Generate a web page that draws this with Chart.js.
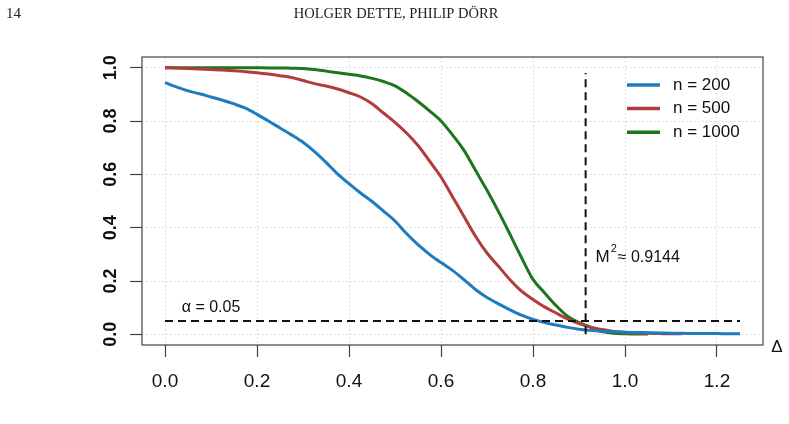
<!DOCTYPE html>
<html>
<head>
<meta charset="utf-8">
<script src="https://cdn.jsdelivr.net/npm/chart.js@4.4.0/dist/chart.umd.min.js"></script>
<style>
  html, body { margin: 0; padding: 0; background: #fff; }
  canvas { display: block; }
</style>
</head>
<body>
<canvas id="power-curves" width="789" height="424"></canvas>
<script>
const deltaGrid = [
  0, 0.025, 0.05, 0.075, 0.1, 0.125, 0.15, 0.175, 0.2, 0.225,
  0.25, 0.275, 0.3, 0.325, 0.35, 0.375, 0.4, 0.425, 0.45, 0.475,
  0.5, 0.525, 0.55, 0.575, 0.6, 0.625, 0.65, 0.675, 0.7, 0.725,
  0.75, 0.775, 0.8, 0.825, 0.85, 0.875, 0.9, 0.925, 0.95, 0.975,
  1.0, 1.025, 1.05, 1.075, 1.1, 1.125, 1.15, 1.175, 1.2, 1.225, 1.25
];
const power200 = [
  0.944, 0.928, 0.913, 0.902, 0.890, 0.878, 0.864, 0.848, 0.825, 0.800,
  0.774, 0.748, 0.720, 0.685, 0.645, 0.602, 0.565, 0.530, 0.498, 0.462,
  0.425, 0.378, 0.336, 0.300, 0.269, 0.240, 0.205, 0.168, 0.138, 0.114,
  0.092, 0.072, 0.056, 0.044, 0.035, 0.026, 0.019, 0.015, 0.012, 0.010,
  0.008, 0.007, 0.006, 0.005, 0.004, 0.004, 0.003, 0.003, 0.003, 0.002, 0.002
];
const power500 = [
  1.000, 0.999, 0.997, 0.995, 0.993, 0.991, 0.988, 0.985, 0.981, 0.976,
  0.970, 0.963, 0.952, 0.940, 0.931, 0.920, 0.906, 0.890, 0.865, 0.830,
  0.795, 0.755, 0.708, 0.650, 0.590, 0.516, 0.442, 0.368, 0.305, 0.255,
  0.205, 0.162, 0.131, 0.103, 0.080, 0.058, 0.040, 0.027, 0.018, 0.011,
  0.007, 0.005, 0.004, 0.003, 0.002, 0.002, null, null, null, null, null
];
const power1000 = [
  1.000, 1.000, 1.000, 1.000, 1.000, 1.000, 1.000, 1.000, 1.000, 0.999,
  0.999, 0.998, 0.997, 0.993, 0.987, 0.981, 0.975, 0.969, 0.960, 0.948,
  0.932, 0.905, 0.873, 0.838, 0.800, 0.748, 0.690, 0.615, 0.540, 0.460,
  0.375, 0.288, 0.206, 0.156, 0.108, 0.068, 0.044, 0.027, 0.010, 0.004,
  0.002, 0.001, 0.001, null, null, null, null, null, null, null, null
];
const seriesLabels = ['n = 200', 'n = 500', 'n = 1000'];
const seriesColors = ['#1f7bbf', '#b23b3b', '#1c761c'];
const xTicks = [0, 0.2, 0.4, 0.6, 0.8, 1.0, 1.2];
const yTicks = [0, 0.2, 0.4, 0.6, 0.8, 1.0];
const alphaLevel = 0.05;
const alphaSpan = [0, 1.25];
const m2Value = 0.9144;
const m2Span = [0, 0.98];

function toPoints(values) {
  const pts = [];
  values.forEach((v, i) => {
    if (v !== null) pts.push({ x: deltaGrid[i], y: v });
  });
  return pts;
}

const curveSets = [power200, power500, power1000].map((values, i) => ({
  label: seriesLabels[i],
  data: toPoints(values),
  borderColor: seriesColors[i],
  borderWidth: 3,
  pointRadius: 0,
  cubicInterpolationMode: 'monotone',
  order: i + 1,
}));

const dashedSets = [
  {
    label: 'alpha',
    data: [{ x: alphaSpan[0], y: alphaLevel }, { x: alphaSpan[1], y: alphaLevel }],
  },
  {
    label: 'M2',
    data: [{ x: m2Value, y: m2Span[0] }, { x: m2Value, y: m2Span[1] }],
  },
].map(ds => Object.assign(ds, {
  borderColor: '#111',
  borderWidth: 2,
  borderDash: [8, 5],
  pointRadius: 0,
  order: 0,
}));

const sansFont = '"Liberation Sans", Arial, sans-serif';
const serifFont = '"Liberation Serif", "Times New Roman", serif';

// box, legend, annotations and page header
const decorations = {
  id: 'decorations',
  afterDraw(chart) {
    const { ctx, chartArea: a, scales } = chart;
    ctx.save();
    ctx.strokeStyle = '#444';
    ctx.lineWidth = 1.2;
    ctx.strokeRect(a.left, a.top, a.right - a.left, a.bottom - a.top);

    // legend
    ctx.textBaseline = 'middle';
    ctx.textAlign = 'left';
    ctx.font = '17px ' + sansFont;
    curveSets.forEach((ds, i) => {
      const y = 85 + i * 23.6;
      ctx.strokeStyle = ds.borderColor;
      ctx.lineWidth = 3.5;
      ctx.beginPath();
      ctx.moveTo(627, y);
      ctx.lineTo(660, y);
      ctx.stroke();
      ctx.fillStyle = '#111';
      ctx.fillText(ds.label, 673, y);
    });

    // alpha label
    ctx.font = '16px ' + sansFont;
    ctx.textAlign = 'center';
    ctx.fillText('\u03b1 = 0.05', scales.x.getPixelForValue(0.1), scales.y.getPixelForValue(0.1));

    // M^2 label
    const mx = scales.x.getPixelForValue(0.936);
    const my = scales.y.getPixelForValue(0.289);
    ctx.textAlign = 'left';
    ctx.font = '17px ' + sansFont;
    ctx.fillText('M', mx, my);
    const mw = ctx.measureText('M').width;
    ctx.font = '11px ' + sansFont;
    ctx.fillText('2', mx + mw + 1, my - 8);
    ctx.font = '16px ' + sansFont;
    ctx.fillText('\u2248 0.9144', mx + mw + 8, my);

    // axis symbol
    ctx.font = '17px ' + sansFont;
    ctx.textAlign = 'center';
    ctx.fillText('\u0394', 777, 347);

    // page header
    ctx.fillStyle = '#222';
    ctx.font = '15px ' + serifFont;
    ctx.textAlign = 'left';
    ctx.fillText('14', 6, 14);
    ctx.textAlign = 'center';
    ctx.font = '14.5px ' + serifFont;
    ctx.fillText('HOLGER DETTE, PHILIP D\u00d6RR', 396, 14);
    ctx.restore();
  },
};

const gridStyle = {
  color: '#d4d4d4',
  lineWidth: 1,
  tickLength: 12,
  tickColor: '#444',
  tickWidth: 1.2,
};

new Chart(document.getElementById('power-curves'), {
  type: 'line',
  data: { datasets: [...dashedSets, ...curveSets] },
  options: {
    responsive: false,
    animation: false,
    layout: { padding: { top: 57, right: 26, left: 0, bottom: 0 } },
    plugins: { legend: { display: false }, tooltip: { enabled: false } },
    scales: {
      x: {
        type: 'linear',
        min: -0.05,
        max: 1.30,
        afterBuildTicks: scale => { scale.ticks = xTicks.map(v => ({ value: v })); },
        afterFit: scale => { scale.height = 79; },
        grid: gridStyle,
        border: { display: false, dash: [1.5, 2.5] },
        ticks: {
          autoSkip: false,
          maxRotation: 0,
          padding: 13,
          color: '#111',
          font: { family: sansFont, size: 19 },
          callback: v => v.toFixed(1),
        },
      },
      y: {
        type: 'linear',
        min: -0.04,
        max: 1.04,
        afterBuildTicks: scale => { scale.ticks = yTicks.map(v => ({ value: v })); },
        afterFit: scale => { scale.width = 142; },
        grid: gridStyle,
        border: { display: false, dash: [1.5, 2.5] },
        ticks: {
          autoSkip: false,
          minRotation: 90,
          maxRotation: 90,
          crossAlign: 'center',
          padding: 6,
          color: '#111',
          font: { family: sansFont, size: 18, weight: 'bold' },
          callback: v => v.toFixed(1),
        },
      },
    },
  },
  plugins: [decorations],
});
</script>
</body>
</html>
